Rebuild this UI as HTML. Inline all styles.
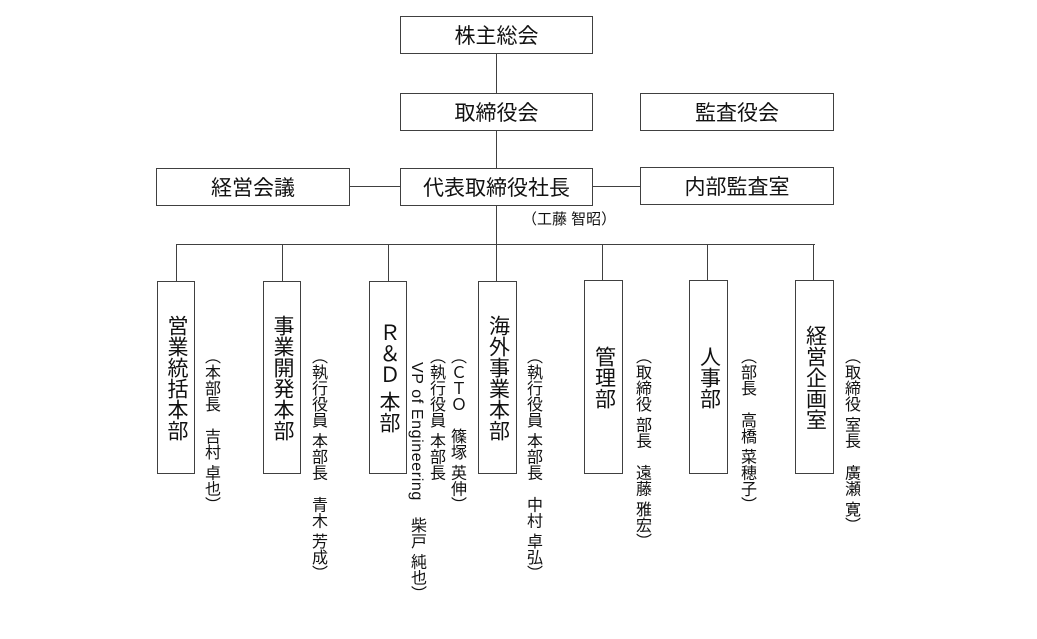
<!DOCTYPE html>
<html>
<head>
<meta charset="utf-8">
<style>
  html,body{margin:0;padding:0;background:#fff;}
  body{width:1037px;height:639px;position:relative;overflow:hidden;
       font-family:"Liberation Sans","Noto Sans CJK JP",sans-serif;color:#111;}
  .b{position:absolute;box-sizing:border-box;border:1px solid #404040;background:#fff;
     display:flex;align-items:center;justify-content:center;font-size:21px;white-space:nowrap;}
  .l{position:absolute;background:#404040;}
  .v{writing-mode:vertical-rl;text-orientation:mixed;line-height:22px;}
  .lab{position:absolute;writing-mode:vertical-rl;text-orientation:mixed;font-size:16px;
       line-height:21px;width:21px;white-space:nowrap;top:348px;}
  .lat{font-family:"Liberation Sans",sans-serif;font-size:16px;letter-spacing:0.6px;}
</style>
</head>
<body>
<!-- connector lines -->
<div class="l" style="left:496px;top:54px;width:1px;height:39px;"></div>
<div class="l" style="left:496px;top:130px;width:1px;height:38px;"></div>
<div class="l" style="left:496px;top:205px;width:1px;height:39px;"></div>
<div class="l" style="left:349px;top:186px;width:52px;height:1px;"></div>
<div class="l" style="left:592px;top:186px;width:49px;height:1px;"></div>
<div class="l" style="left:176px;top:244px;width:639px;height:1px;"></div>
<div class="l" style="left:176px;top:244px;width:1px;height:37px;"></div>
<div class="l" style="left:282px;top:244px;width:1px;height:37px;"></div>
<div class="l" style="left:388px;top:244px;width:1px;height:37px;"></div>
<div class="l" style="left:496px;top:244px;width:1px;height:37px;"></div>
<div class="l" style="left:602px;top:244px;width:1px;height:37px;"></div>
<div class="l" style="left:707px;top:244px;width:1px;height:37px;"></div>
<div class="l" style="left:813px;top:244px;width:1px;height:37px;"></div>

<!-- top boxes -->
<div class="b" style="left:400px;top:16px;width:193px;height:38px;">株主総会</div>
<div class="b" style="left:400px;top:93px;width:193px;height:38px;">取締役会</div>
<div class="b" style="left:640px;top:93px;width:194px;height:38px;">監査役会</div>
<div class="b" style="left:156px;top:168px;width:194px;height:38px;">経営会議</div>
<div class="b" style="left:400px;top:168px;width:193px;height:38px;">代表取締役社長</div>
<div class="b" style="left:640px;top:167px;width:194px;height:38px;">内部監査室</div>
<div style="position:absolute;left:522px;top:210px;font-size:15px;line-height:20px;white-space:nowrap;">（工藤 智昭）</div>

<!-- bottom boxes -->
<div class="b" style="left:157px;top:281px;width:38px;height:193px;"><span class="v">営業統括本部</span></div>
<div class="b" style="left:263px;top:281px;width:38px;height:193px;"><span class="v">事業開発本部</span></div>
<div class="b" style="left:369px;top:281px;width:38px;height:193px;"><span class="v">Ｒ＆Ｄ 本部</span></div>
<div class="b" style="left:478px;top:281px;width:39px;height:193px;"><span class="v">海外事業本部</span></div>
<div class="b" style="left:584px;top:280px;width:39px;height:194px;"><span class="v">管理部</span></div>
<div class="b" style="left:689px;top:280px;width:39px;height:194px;"><span class="v">人事部</span></div>
<div class="b" style="left:795px;top:280px;width:39px;height:194px;"><span class="v">経営企画室</span></div>

<!-- side labels -->
<div class="lab" style="left:200px;">（本部長　吉村 卓也）</div>
<div class="lab" style="left:307px;">（執行役員 本部長　青木 芳成）</div>
<div class="lab" style="left:446px;">（ＣＴＯ　篠塚 英伸）</div>
<div class="lab" style="left:425px;">（執行役員 本部長</div>
<div class="lab" style="left:406px;top:362px;"><span class="lat">VP of Engineering</span>　柴戸 純也）</div>
<div class="lab" style="left:522px;">（執行役員 本部長　中村 卓弘）</div>
<div class="lab" style="left:631px;">（取締役 部長　遠藤 雅宏）</div>
<div class="lab" style="left:736px;">（部長　高橋 菜穂子）</div>
<div class="lab" style="left:840px;">（取締役 室長　廣瀬 寛）</div>
</body>
</html>
